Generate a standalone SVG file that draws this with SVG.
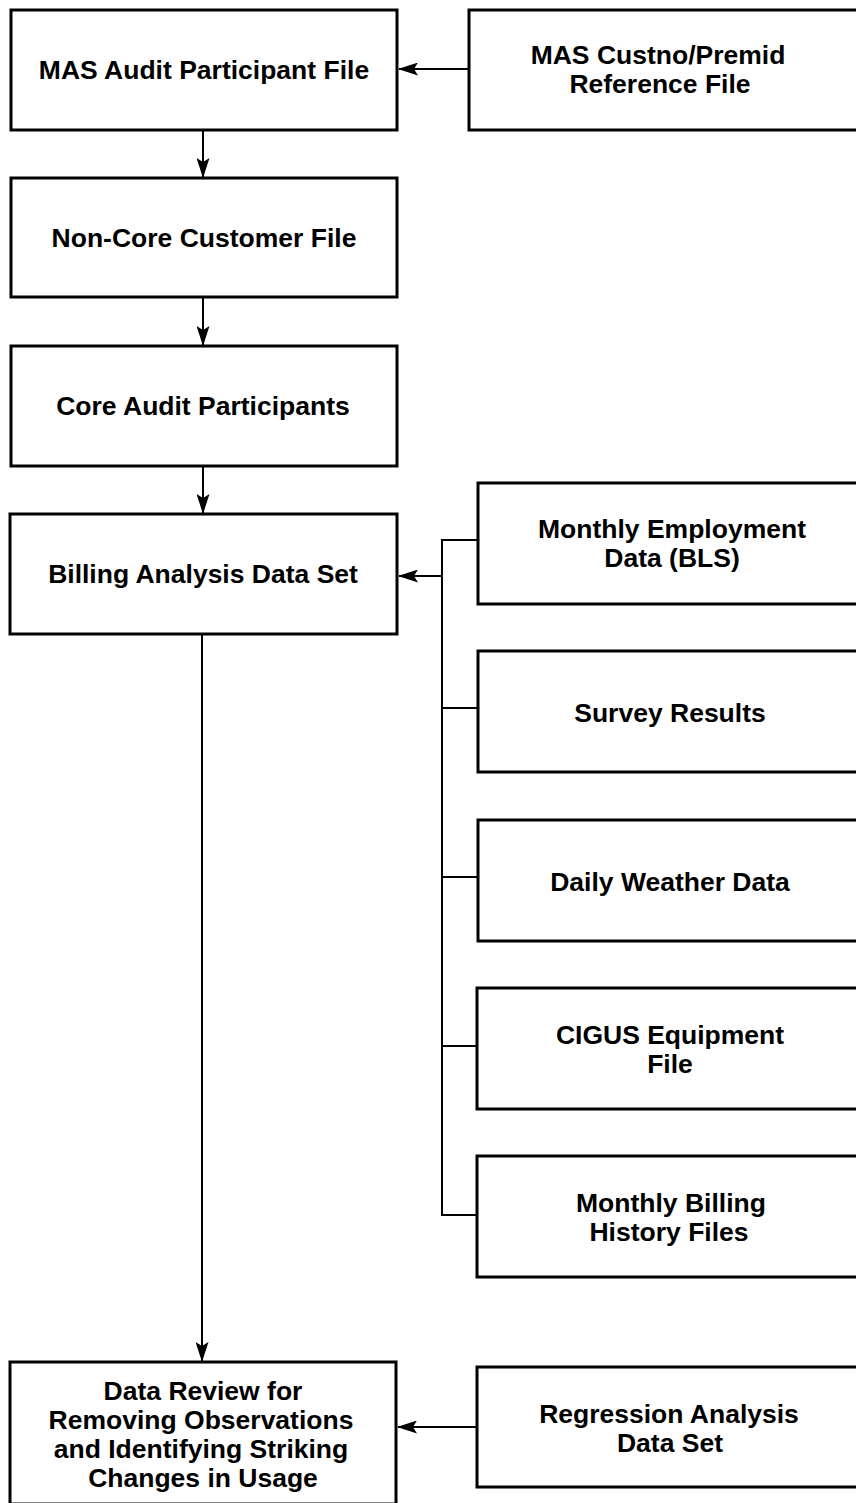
<svg xmlns="http://www.w3.org/2000/svg" width="856" height="1503" viewBox="0 0 856 1503">
<style>
.box{fill:#fff;stroke:#000;stroke-width:3}
.t{font-family:"Liberation Sans",Arial,sans-serif;font-weight:bold;font-size:26.5px;fill:#000;text-anchor:middle}
.ln{stroke:#000;stroke-width:2;fill:none}
</style>
<defs>
<marker id="ah" viewBox="0 0 20 13" refX="19" refY="6.5" markerWidth="20" markerHeight="13" markerUnits="userSpaceOnUse" orient="auto">
<path d="M0,0 L20,6.5 L0,13 L4,6.5 Z" fill="#000"/>
</marker>
</defs>
<rect width="856" height="1503" fill="#fff"/>
<g id="n1"><rect class="box" x="11" y="10" width="386" height="120"/><text class="t" x="204" y="79">MAS Audit Participant File</text></g>
<g id="n2"><rect class="box" x="469" y="10" width="395" height="120"/><text class="t" x="658" y="64">MAS Custno/Premid</text><text class="t" x="660" y="93">Reference File</text></g>
<g id="n3"><rect class="box" x="11" y="178" width="386" height="119"/><text class="t" x="204" y="247">Non-Core Customer File</text></g>
<g id="n4"><rect class="box" x="11" y="346" width="386" height="120"/><text class="t" x="203" y="415">Core Audit Participants</text></g>
<g id="n5"><rect class="box" x="10" y="514" width="387" height="120"/><text class="t" x="203" y="583">Billing Analysis Data Set</text></g>
<g id="n6"><rect class="box" x="478" y="483" width="386" height="121"/><text class="t" x="672" y="538">Monthly Employment</text><text class="t" x="672" y="567">Data (BLS)</text></g>
<g id="n7"><rect class="box" x="478" y="651" width="386" height="121"/><text class="t" x="670" y="722">Survey Results</text></g>
<g id="n8"><rect class="box" x="478" y="820" width="386" height="121"/><text class="t" x="670" y="891">Daily Weather Data</text></g>
<g id="n9"><rect class="box" x="477" y="988" width="387" height="121"/><text class="t" x="670" y="1044">CIGUS Equipment</text><text class="t" x="670" y="1073">File</text></g>
<g id="n10"><rect class="box" x="477" y="1156" width="387" height="121"/><text class="t" x="671" y="1212">Monthly Billing</text><text class="t" x="669" y="1241">History Files</text></g>
<g id="n11"><rect class="box" x="10" y="1362" width="386" height="142"/><text class="t" x="203" y="1400">Data Review for</text><text class="t" x="201" y="1429">Removing Observations</text><text class="t" x="201" y="1458">and Identifying Striking</text><text class="t" x="203" y="1487">Changes in Usage</text></g>
<g id="n12"><rect class="box" x="477" y="1367" width="387" height="120"/><text class="t" x="669" y="1423">Regression Analysis</text><text class="t" x="670" y="1452">Data Set</text></g>
<g id="connectors">
<line class="ln" x1="469" y1="69" x2="399" y2="69" marker-end="url(#ah)"/>
<line class="ln" x1="203" y1="131" x2="203" y2="177" marker-end="url(#ah)"/>
<line class="ln" x1="203" y1="298" x2="203" y2="345" marker-end="url(#ah)"/>
<line class="ln" x1="203" y1="467" x2="203" y2="513" marker-end="url(#ah)"/>
<line class="ln" x1="202" y1="635" x2="202" y2="1361" marker-end="url(#ah)"/>
<polyline class="ln" points="478,540 442,540 442,1215 477,1215"/>
<line class="ln" x1="442" y1="708" x2="478" y2="708"/>
<line class="ln" x1="442" y1="877" x2="478" y2="877"/>
<line class="ln" x1="442" y1="1046" x2="477" y2="1046"/>
<line class="ln" x1="442" y1="576" x2="399" y2="576" marker-end="url(#ah)"/>
<line class="ln" x1="477" y1="1427" x2="398" y2="1427" marker-end="url(#ah)"/>
</g>
</svg>
